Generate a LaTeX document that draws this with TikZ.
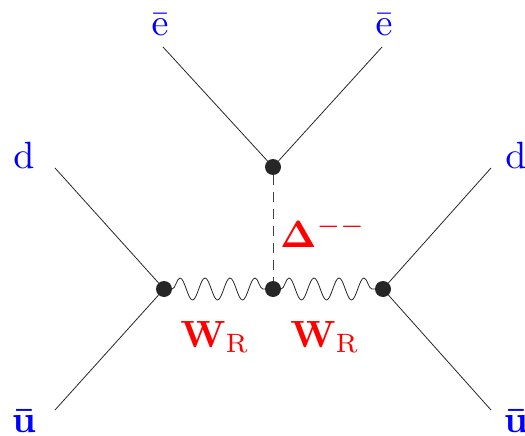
\documentclass[tikz,border=0pt]{standalone}
\usepackage{amsmath, amssymb}
\usepackage{graphicx}
\usepackage{tikz}
\usetikzlibrary{decorations.pathmorphing}

\newcommand{\biglbl}[1]{\scalebox{3.8}{$#1$}}

\begin{document}
\begin{tikzpicture}[x=1pt, y=-1pt,
    fermion/.style={line width=0.8pt, black!85},
    boson/.style={line width=0.8pt, black!85, decorate,
        decoration={snake, amplitude=11pt, segment length=25pt}},
    scalar/.style={line width=0.8pt, black!75, dash pattern=on 10pt off 7pt},
    vtx/.style={circle, fill=black!85, inner sep=0pt, minimum size=16pt},
    quark/.style={text=blue},
    gauge/.style={text=red}]
    \useasboundingbox (0, 0) rectangle (525, 436);

    % vertices
    \node[vtx] (vl) at (164, 289) {};
    \node[vtx] (vm) at (273, 289) {};
    \node[vtx] (vr) at (383, 289) {};
    \node[vtx] (vt) at (273, 167) {};

    % free ends of the external lines
    \coordinate (dl) at (55, 168);
    \coordinate (ul) at (55, 410);
    \coordinate (dr) at (491, 168);
    \coordinate (ur) at (491, 410);
    \coordinate (el) at (163, 47);
    \coordinate (er) at (382, 47);

    \draw[fermion] (dl) -- (vl) -- (ul);
    \draw[fermion] (dr) -- (vr) -- (ur);
    \draw[fermion] (el) -- (vt) -- (er);
    \draw[scalar] (vt) -- (vm);
    \draw[boson] (vl) -- (vm);
    \draw[boson] (vm) -- (vr);

    % particle labels
    \node[quark] (dlab1) at (24, 155) {\biglbl{\mathrm{d}}};
    \node[quark] (ulab1) at (24, 421) {\biglbl{\mathbf{\bar{u}}}};
    \node[quark] (dlab2) at (516, 155) {\biglbl{\mathrm{d}}};
    \node[quark] (ulab2) at (516, 421) {\biglbl{\mathbf{\bar{u}}}};
    \node[quark] (elab1) at (160, 25) {\biglbl{\bar{\mathrm{e}}}};
    \node[quark] (elab2) at (384, 25) {\biglbl{\bar{\mathrm{e}}}};
    \node[gauge] (delta) at (323, 232) {\biglbl{\mathbf{\Delta}^{--}}};
    \node[gauge] (wl) at (215, 337) {\biglbl{\mathbf{W}_{\mathrm{R}}}};
    \node[gauge] (wr) at (325, 337) {\biglbl{\mathbf{W}_{\mathrm{R}}}};
\end{tikzpicture}
\end{document}
